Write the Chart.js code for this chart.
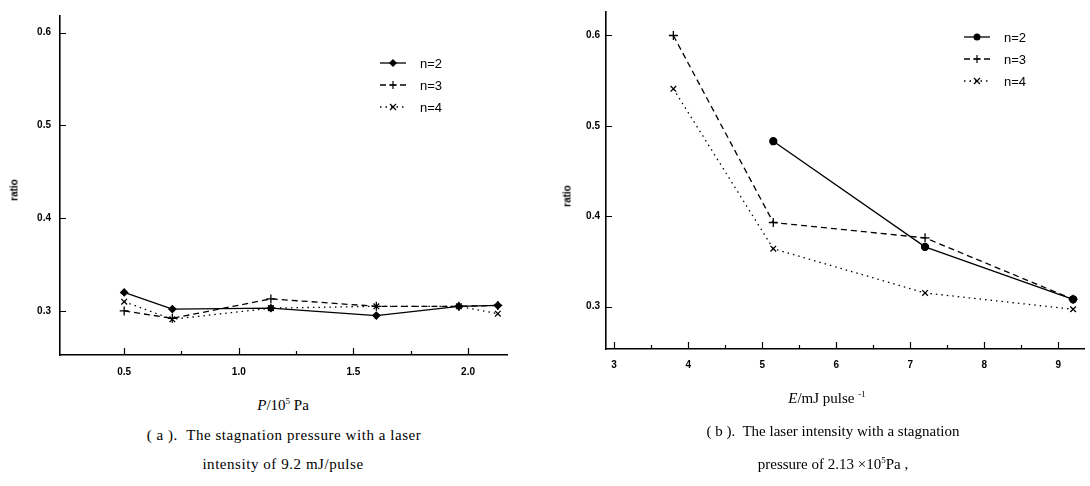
<!DOCTYPE html>
<html>
<head>
<meta charset="utf-8">
<script src="https://cdn.jsdelivr.net/npm/chart.js@4"></script>
<style>
  body { margin: 0; background: #fff; width: 1090px; height: 486px; overflow: hidden; position: relative; }
  canvas { position: absolute; top: 0; }
  .txt { position: absolute; color: #000; white-space: nowrap; }
  .serif { font-family: "Liberation Serif", "DejaVu Serif", serif; font-size: 15px; }
  .wide { letter-spacing: 0.55px; }
  .ylab { font-family: "Liberation Sans", Arial, sans-serif; font-size: 10px; font-weight: bold; transform: translate(-50%, -50%) rotate(-90deg); }
  .legend { position: absolute; font-family: "Liberation Sans", Arial, sans-serif; font-size: 13px; }
  .legend div { height: 22px; display: flex; align-items: center; }
  .legend svg { margin-right: 14px; }
</style>
</head>
<body>
<canvas id="chartA" width="540" height="390" style="left:0"></canvas>
<canvas id="chartB" width="545" height="390" style="left:545px"></canvas>

<div class="txt ylab" style="left:14px; top:190px">ratio</div>
<div class="txt ylab" style="left:567px; top:196px">ratio</div>

<div class="legend" style="left:380px; top:52px" id="legendA"></div>
<div class="legend" style="left:964px; top:26px" id="legendB"></div>

<div class="txt serif" style="left:283px; top:396px; transform:translateX(-50%)"><i>P</i>/10<sup style="font-size:9px">5</sup> Pa</div>
<div class="txt serif wide" style="left:284px; top:427px; transform:translateX(-50%)">( a ).&nbsp; The stagnation pressure with a laser</div>
<div class="txt serif wide" style="left:283px; top:456px; transform:translateX(-50%)">intensity of 9.2 mJ/pulse</div>

<div class="txt serif" style="left:827px; top:389px; transform:translateX(-50%)"><i>E</i>/mJ pulse <sup style="font-size:9px">-1</sup></div>
<div class="txt serif" style="left:833px; top:423px; transform:translateX(-50%)">( b ).&nbsp; The laser intensity with a stagnation</div>
<div class="txt serif" style="left:833px; top:455px; transform:translateX(-50%)">pressure of 2.13 &times;10<sup style="font-size:9px">5</sup>Pa ,</div>

<script>
// Panel (a): ratio vs stagnation pressure (10^5 Pa)
const pressureValues = [0.5, 0.71, 1.14, 1.6, 1.96, 2.13];
const pressN2 = [0.320, 0.302, 0.303, 0.295, 0.305, 0.306];
const pressN3 = [0.300, 0.292, 0.313, 0.305, 0.305, 0.306];
const pressN4 = [0.310, 0.291, 0.303, 0.305, 0.305, 0.297];

// Panel (b): ratio vs laser intensity (mJ/pulse)
const energyValues = [3.8, 5.15, 7.2, 9.2];
const energyN2 = [null, 0.483, 0.366, 0.308];
const energyN3 = [0.600, 0.393, 0.376, 0.308];
const energyN4 = [0.541, 0.364, 0.315, 0.297];

// Tick labels
const ratioTicks = [0.3, 0.4, 0.5, 0.6];
const pressureTicks = [0.5, 1.0, 1.5, 2.0];
const pressureMinor = [0.75, 1.25, 1.75];
const energyTicks = [3, 4, 5, 6, 7, 8, 9];
const energyMinor = [3.5, 4.5, 5.5, 6.5, 7.5, 8.5];

const seriesNames = ['n=2', 'n=3', 'n=4'];

// Build {x,y} points, skipping missing values
function toPoints(xs, ys) {
    return xs.map((x, i) => ({ x: x, y: ys[i] })).filter(p => p.y !== null);
}

// Line styles for the three series
function seriesStyle(index, markerFor2) {
    const styles = [
        { borderDash: [], pointStyle: markerFor2, pointRadius: 3.5 },
        { borderDash: [6, 4], pointStyle: 'cross', pointRadius: 4.5 },
        { borderDash: [1.5, 4], pointStyle: 'crossRot', pointRadius: 4 }
    ];
    return styles[index];
}

// Draw inward tick marks from the scales
const inwardTicks = {
    id: 'inwardTicks',
    afterDraw(chart, args, opts) {
        const ctx = chart.ctx;
        const area = chart.chartArea;
        const xs = chart.scales.x;
        const ys = chart.scales.y;
        ctx.save();
        ctx.strokeStyle = '#000';
        ctx.lineWidth = 1.2;
        ctx.beginPath();
        (opts.xMajor || []).forEach(v => {
            const px = Math.round(xs.getPixelForValue(v)) + 0.5;
            ctx.moveTo(px, area.bottom); ctx.lineTo(px, area.bottom - 7);
        });
        (opts.xMinor || []).forEach(v => {
            const px = Math.round(xs.getPixelForValue(v)) + 0.5;
            ctx.moveTo(px, area.bottom); ctx.lineTo(px, area.bottom - 4);
        });
        (opts.yMajor || []).forEach(v => {
            const py = Math.round(ys.getPixelForValue(v)) + 0.5;
            ctx.moveTo(area.left, py); ctx.lineTo(area.left + 6, py);
        });
        ctx.stroke();
        ctx.restore();
    }
};

function makeChart(canvasId, cfg) {
    const datasets = cfg.series.map((ys, i) => {
        const st = seriesStyle(i, cfg.marker);
        return {
            label: seriesNames[i],
            data: toPoints(cfg.xValues, ys),
            borderColor: '#000',
            borderWidth: 1.3,
            borderDash: st.borderDash,
            pointStyle: st.pointStyle,
            pointRadius: st.pointRadius,
            pointBorderColor: '#000',
            pointBackgroundColor: '#000',
            pointBorderWidth: 1.3,
            fill: false,
            tension: 0
        };
    });

    const tickFont = { family: 'Liberation Sans', size: 10, weight: 'bold' };

    return new Chart(document.getElementById(canvasId).getContext('2d'), {
        type: 'line',
        data: { datasets: datasets },
        options: {
            responsive: false,
            animation: false,
            layout: { padding: cfg.padding },
            plugins: {
                legend: { display: false },
                tooltip: { enabled: false },
                inwardTicks: { xMajor: cfg.xTicks, xMinor: cfg.xMinor, yMajor: ratioTicks }
            },
            scales: {
                x: {
                    type: 'linear',
                    min: cfg.xMin,
                    max: cfg.xMax,
                    grid: { display: false, drawTicks: false },
                    border: { display: true, color: '#000', width: 1.6 },
                    afterBuildTicks: s => { s.ticks = cfg.xTicks.map(v => ({ value: v })); },
                    afterFit: s => { s.height = cfg.xHeight; },
                    ticks: {
                        color: '#000',
                        font: tickFont,
                        padding: cfg.xPad,
                        maxRotation: 0,
                        callback: cfg.xFormat
                    }
                },
                y: {
                    type: 'linear',
                    min: cfg.yMin,
                    max: cfg.yMax,
                    grid: { display: false, drawTicks: false },
                    border: { display: true, color: '#000', width: 1.6 },
                    afterBuildTicks: s => { s.ticks = ratioTicks.map(v => ({ value: v })); },
                    afterFit: s => { s.width = cfg.yWidth; },
                    ticks: {
                        color: '#000',
                        font: tickFont,
                        padding: cfg.yPad,
                        callback: v => v.toFixed(1)
                    }
                }
            }
        },
        plugins: [inwardTicks]
    });
}

makeChart('chartA', {
    xValues: pressureValues,
    series: [pressN2, pressN3, pressN4],
    marker: 'rectRot',
    xMin: 0.22, xMax: 2.17,
    yMin: 0.2525, yMax: 0.618,
    xTicks: pressureTicks, xMinor: pressureMinor,
    xFormat: v => v.toFixed(1),
    padding: { left: 0, top: 16, right: 33, bottom: 0 },
    yWidth: 60, xHeight: 35, xPad: 11, yPad: 9
});

makeChart('chartB', {
    xValues: energyValues,
    series: [energyN2, energyN3, energyN4],
    marker: 'circle',
    xMin: 2.89, xMax: 9.35,
    yMin: 0.253, yMax: 0.626,
    xTicks: energyTicks, xMinor: energyMinor,
    xFormat: v => String(v),
    padding: { left: 0, top: 7, right: 2, bottom: 0 },
    yWidth: 61, xHeight: 41, xPad: 10, yPad: 6
});

// Legends: line sample with marker, then label
function legendSample(index, marker) {
    const dash = ['', '6,4', '1.5,4'][index];
    let mark;
    if (index === 0) {
        mark = marker === 'circle'
            ? '<circle cx="13" cy="5" r="3.5" fill="#000"/>'
            : '<polygon points="13,1 17,5 13,9 9,5" fill="#000"/>';
    } else if (index === 1) {
        mark = '<path d="M13 1 V9 M9 5 H17" stroke="#000" stroke-width="1.2"/>';
    } else {
        mark = '<path d="M10 2 L16 8 M16 2 L10 8" stroke="#000" stroke-width="1.2"/>';
    }
    return '<svg width="26" height="10"><line x1="0" y1="5" x2="26" y2="5" stroke="#000" stroke-width="1.3"' +
        (dash ? ' stroke-dasharray="' + dash + '"' : '') + '/>' + mark + '</svg>';
}

function buildLegend(id, marker) {
    const el = document.getElementById(id);
    el.innerHTML = seriesNames.map((name, i) =>
        '<div>' + legendSample(i, marker) + '<span>' + name + '</span></div>').join('');
}

buildLegend('legendA', 'rectRot');
buildLegend('legendB', 'circle');
</script>
</body>
</html>
